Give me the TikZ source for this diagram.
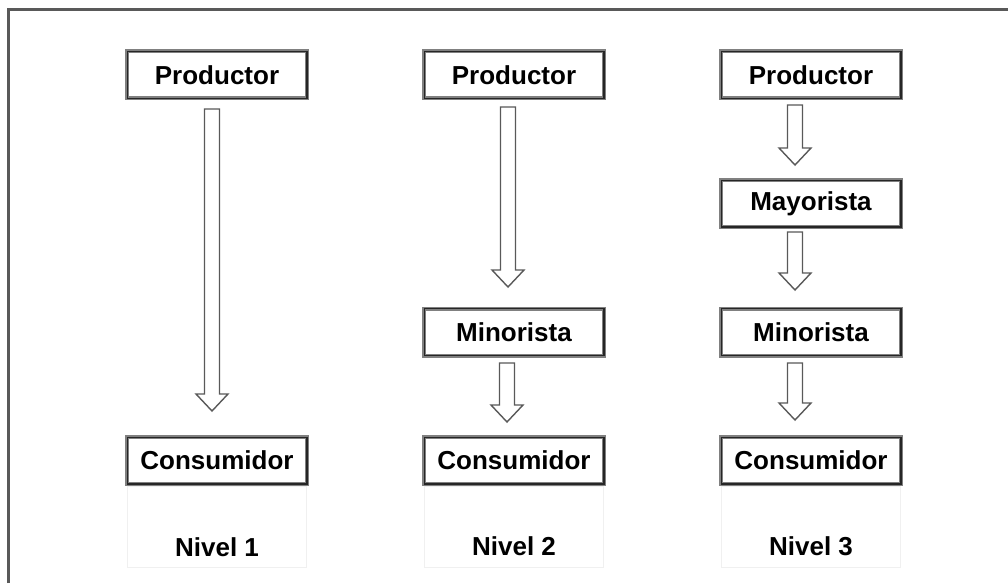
\documentclass[tikz,border=0pt]{standalone}
\usepackage{fontspec}
\setmainfont{Liberation Sans}
\usetikzlibrary{calc}
\begin{document}
\begin{tikzpicture}[x=1pt,y=-1pt,
  box/.style={draw=black!50, line width=4pt, fill=white, minimum width=180pt,
    minimum height=47pt, inner sep=0pt, font=\fontsize{26}{30}\selectfont\bfseries},
  innerline/.style={draw=black!85, line width=1.4pt},
  levellabel/.style={inner sep=0pt, font=\fontsize{26}{30}\selectfont\bfseries},
  blockarrow/.style={draw=black!65, line width=1.4pt, fill=white, line join=miter},
  frameline/.style={draw=black!65, line width=3pt},
  ghostbox/.style={draw=black!6, line width=0.6pt}]
\useasboundingbox (0,0) rectangle (1008,583);
\fill[white] (0,0) rectangle (1008,583);

% outer frame (top and left edges)
\draw[frameline] (8,583) -- (8,10) -- (1008,10);

% hollow block arrow between two named coordinates
\newcommand{\hollowarrow}[2]{%
  \draw[blockarrow] let \p1=(#1), \p2=(#2) in
    (\x1-7.5pt,\y1) -- (\x1+7.5pt,\y1) -- (\x1+7.5pt,\y2+17pt) --
    (\x1+16pt,\y2+17pt) -- (\x1,\y2) -- (\x1-16pt,\y2+17pt) --
    (\x1-7.5pt,\y2+17pt) -- cycle;}

% faint panels under the last row
\draw[ghostbox] (127,486) rectangle (306,567);
\draw[ghostbox] (424,486) rectangle (603,567);
\draw[ghostbox] (721,486) rectangle (900,567);

% column 1
\node[box] (p1) at (217,75) {Productor};
\node[box] (c1) at (217,460.5) {Consumidor};
\node[levellabel] (n1) at (217,547) {Nivel 1};

% column 2
\node[box] (p2) at (514,75) {Productor};
\node[box] (m2) at (514,332) {Minorista};
\node[box] (c2) at (514,460.5) {Consumidor};
\node[levellabel] (n2) at (514,546) {Nivel 2};

% column 3
\node[box] (p3) at (811,75) {Productor};
\node[box] (y3) at (811,203.5) {Mayorista};
\node[box] (m3) at (811,332) {Minorista};
\node[box] (c3) at (811,460.5) {Consumidor};
\node[levellabel] (n3) at (811,546) {Nivel 3};

% inner dark border of each box
\foreach \n in {p1,c1,p2,m2,c2,p3,y3,m3,c3}
  \draw[innerline] ([shift={(2.2,2.2)}]\n.north west) rectangle ([shift={(-2.2,-2.2)}]\n.south east);

% arrow end points
\coordinate (a1s) at (212,109);  \coordinate (a1e) at (212,411);
\coordinate (a2s) at (508,107);  \coordinate (a2e) at (508,287);
\coordinate (a3s) at (507,363);  \coordinate (a3e) at (507,422);
\coordinate (a4s) at (795,105);  \coordinate (a4e) at (795,165);
\coordinate (a5s) at (795,232);  \coordinate (a5e) at (795,290);
\coordinate (a6s) at (795,363);  \coordinate (a6e) at (795,420);

\hollowarrow{a1s}{a1e}
\hollowarrow{a2s}{a2e}
\hollowarrow{a3s}{a3e}
\hollowarrow{a4s}{a4e}
\hollowarrow{a5s}{a5e}
\hollowarrow{a6s}{a6e}
\end{tikzpicture}
\end{document}
